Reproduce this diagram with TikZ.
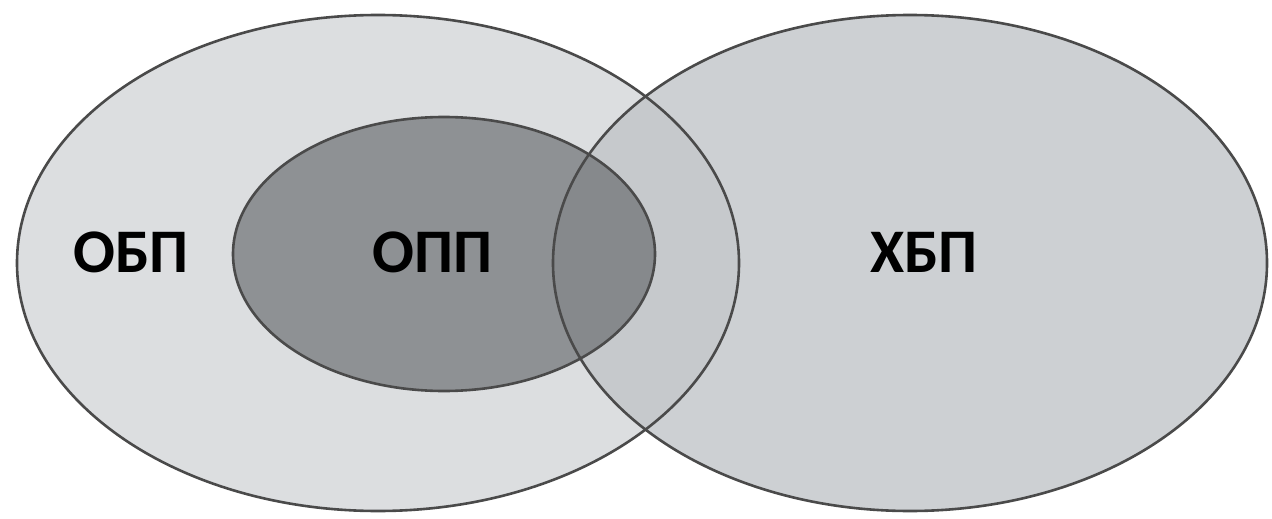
\documentclass[tikz,border=0pt]{standalone}
\usepackage{fontspec}
\setmainfont{Carlito}
\definecolor{leftfill}{HTML}{DCDEE0}
\definecolor{rightfill}{HTML}{CDD0D3}
\definecolor{lensfill}{HTML}{C6C9CC}
\definecolor{innerfill}{HTML}{8E9194}
\definecolor{innerlens}{HTML}{86898C}
\definecolor{edge}{HTML}{4A4A4A}
\tikzset{
  outline/.style={draw=edge, line width=2.6pt},
  label/.style={anchor=base, font=\fontsize{62}{62}\selectfont\bfseries, text=black, inner sep=0pt}
}
\begin{document}
\begin{tikzpicture}[x=1pt,y=-1pt]
\useasboundingbox (0,0) rectangle (1272,519);
% fills
\fill[leftfill] (378,263) ellipse [x radius=361, y radius=248];
\fill[rightfill] (910,263) ellipse [x radius=357, y radius=248];
\begin{scope}
  \clip (378,263) ellipse [x radius=361, y radius=248];
  \fill[lensfill] (910,263) ellipse [x radius=357, y radius=248];
\end{scope}
\fill[innerfill] (444,254) ellipse [x radius=211, y radius=137];
\begin{scope}
  \clip (444,254) ellipse [x radius=211, y radius=137];
  \fill[innerlens] (910,263) ellipse [x radius=357, y radius=248];
\end{scope}
% outlines
\path[outline] (378,263) ellipse [x radius=361, y radius=248];
\path[outline] (910,263) ellipse [x radius=357, y radius=248];
\path[outline] (444,254) ellipse [x radius=211, y radius=137];
% labels
\node[label] (obp) at (131,272) {ОБП};
\node[label] (opp) at (433,272) {ОПП};
\node[label] (hbp) at (924,272) {ХБП};
\end{tikzpicture}
\end{document}
